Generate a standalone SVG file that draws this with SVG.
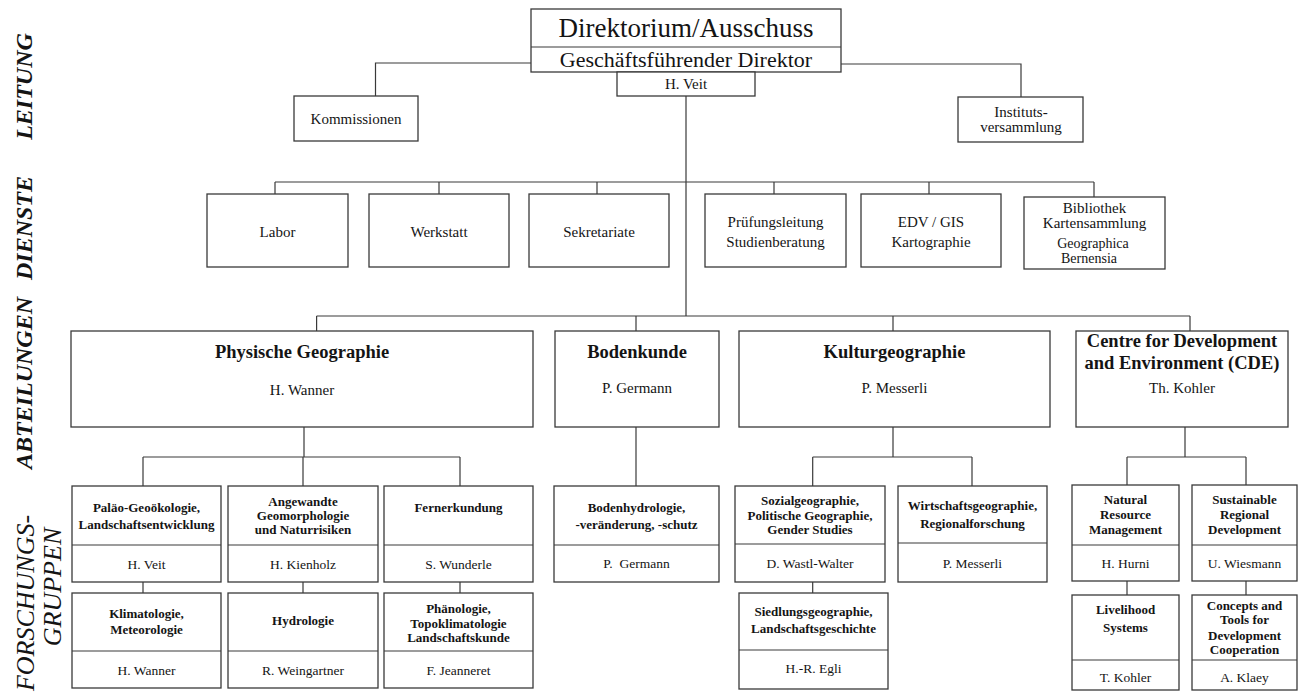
<svg xmlns="http://www.w3.org/2000/svg" width="1301" height="697" viewBox="0 0 1301 697">
<style>
.bx{fill:#fff;stroke:#3a3a3a;stroke-width:1.3}
.ln{fill:none;stroke:#3a3a3a;stroke-width:1.2}
text{font-family:"Liberation Serif","Times New Roman",serif;fill:#141414;text-anchor:middle}
.s15{font-size:15px}
.s14{font-size:14px}
.h1{font-size:27px}
.h2{font-size:22px}
.tt{font-size:18.5px;font-weight:bold}
.fb{font-size:13px;font-weight:bold}
.fn{font-size:13.5px}
.lab{font-size:24px;font-weight:bold;font-style:italic}
.lab2{font-size:26px;font-style:italic}
</style>
<rect width="1301" height="697" fill="#fff"/>
<g id="row-labels">
<text class="lab" transform="translate(32,86.5) rotate(-90)">LEITUNG</text>
<text class="lab" transform="translate(32,228) rotate(-90)">DIENSTE</text>
<text class="lab" transform="translate(32,383) rotate(-90)">ABTEILUNGEN</text>
<text class="lab2" transform="translate(34,603) rotate(-90)">FORSCHUNGS-</text>
<text class="lab2" transform="translate(61,587) rotate(-90)">GRUPPEN</text>
</g>
<g id="connectors">
<path class="ln" d="M531,63H375.5V96M841,64H1021V97M686,96V316"/>
<path class="ln" d="M275,182H1094M275,182V194M439,182V194M597,182V194M774,182V194M929,182V194M1094,182V197"/>
<path class="ln" d="M316.6,316H1190M316.6,316V331M636,316V331M893,316V331M1190,316V331"/>
<path class="ln" d="M304,427V457M143,457H460M143,457V486M303,457V486M460,457V486M143,582V593M303,582V593M460,582V593"/>
<path class="ln" d="M636,427V486"/>
<path class="ln" d="M893,427V457M812.7,457H972M812.7,457V486M972,457V486M812.7,582V593"/>
<path class="ln" d="M1185,427V457M1127,457H1246M1127,457V485M1246,457V485M1127,581V595M1246,581V595"/>
</g>
<g id="direktorium">
<rect class="bx" x="531" y="9" width="310" height="63"/>
<line class="ln" x1="531" y1="47" x2="841" y2="47"/>
<text class="h1" x="686" y="37">Direktorium/Ausschuss</text>
<text class="h2" x="686" y="67">Geschäftsführender Direktor</text>
</g>
<g id="veit">
<rect class="bx" x="617" y="72" width="138" height="24"/>
<text class="s15" x="686" y="89">H. Veit</text>
</g>
<g id="kommissionen">
<rect class="bx" x="294" y="96" width="124" height="45"/>
<text class="s15" x="356" y="124">Kommissionen</text>
</g>
<g id="institutsversammlung">
<rect class="bx" x="958" y="97" width="125" height="45"/>
<text class="s15" x="1021" y="117">Instituts-</text>
<text class="s15" x="1021" y="132">versammlung</text>
</g>
<g id="labor">
<rect class="bx" x="207" y="194" width="141" height="73"/>
<text class="s15" x="277.5" y="237">Labor</text>
</g>
<g id="werkstatt">
<rect class="bx" x="369" y="194" width="140" height="73"/>
<text class="s15" x="439" y="237">Werkstatt</text>
</g>
<g id="sekretariate">
<rect class="bx" x="529" y="194" width="140" height="73"/>
<text class="s15" x="599" y="237">Sekretariate</text>
</g>
<g id="pruefungsleitung">
<rect class="bx" x="705" y="194" width="141" height="73"/>
<text class="s15" x="775.5" y="227">Prüfungsleitung</text>
<text class="s15" x="775.5" y="247">Studienberatung</text>
</g>
<g id="edv">
<rect class="bx" x="861" y="194" width="140" height="73"/>
<text class="s15" x="931" y="227">EDV / GIS</text>
<text class="s15" x="931" y="247">Kartographie</text>
</g>
<g id="bibliothek">
<rect class="bx" x="1024" y="197" width="141" height="72"/>
<text class="s15" x="1094.5" y="213">Bibliothek</text>
<text class="s15" x="1094.5" y="228">Kartensammlung</text>
<text class="s14" x="1093" y="248">Geographica</text>
<text class="s14" x="1089" y="262.5">Bernensia</text>
</g>
<g id="physische-geographie">
<rect class="bx" x="71" y="331" width="462" height="96"/>
<text class="tt" x="302" y="358">Physische Geographie</text>
<text class="s15" x="302" y="395">H. Wanner</text>
</g>
<g id="bodenkunde">
<rect class="bx" x="555" y="331" width="164" height="96"/>
<text class="tt" x="637" y="358">Bodenkunde</text>
<text class="s15" x="637" y="393">P. Germann</text>
</g>
<g id="kulturgeographie">
<rect class="bx" x="739" y="331" width="311" height="96"/>
<text class="tt" x="894.5" y="358">Kulturgeographie</text>
<text class="s15" x="894.5" y="393">P. Messerli</text>
</g>
<g id="cde">
<rect class="bx" x="1076" y="331" width="212" height="96"/>
<text class="tt" x="1182" y="347">Centre for Development</text>
<text class="tt" x="1182" y="369">and Environment (CDE)</text>
<text class="s15" x="1182" y="393">Th. Kohler</text>
</g>
<g id="palaeo">
<rect class="bx" x="72" y="486" width="149" height="96"/>
<line class="ln" x1="72" y1="545" x2="221" y2="545"/>
<text class="fb" x="146.5" y="511.5">Paläo-Geoökologie,</text>
<text class="fb" x="146.5" y="528.5">Landschaftsentwicklung</text>
<text class="fn" x="146.5" y="568.5">H. Veit</text>
</g>
<g id="angewandte">
<rect class="bx" x="228" y="486" width="150" height="96"/>
<line class="ln" x1="228" y1="545" x2="378" y2="545"/>
<text class="fb" x="303" y="505.5">Angewandte</text>
<text class="fb" x="303" y="519.5">Geomorphologie</text>
<text class="fb" x="303" y="533.5">und Naturrisiken</text>
<text class="fn" x="303" y="568.5">H. Kienholz</text>
</g>
<g id="fernerkundung">
<rect class="bx" x="384" y="486" width="149" height="96"/>
<line class="ln" x1="384" y1="545" x2="533" y2="545"/>
<text class="fb" x="458.5" y="511.5">Fernerkundung</text>
<text class="fn" x="458.5" y="568.5">S. Wunderle</text>
</g>
<g id="klimatologie">
<rect class="bx" x="72" y="593" width="149" height="95"/>
<line class="ln" x1="72" y1="651" x2="221" y2="651"/>
<text class="fb" x="146.5" y="617.5">Klimatologie,</text>
<text class="fb" x="146.5" y="633.5">Meteorologie</text>
<text class="fn" x="146.5" y="674.5">H. Wanner</text>
</g>
<g id="hydrologie">
<rect class="bx" x="228" y="593" width="150" height="95"/>
<line class="ln" x1="228" y1="651" x2="378" y2="651"/>
<text class="fb" x="303" y="624.5">Hydrologie</text>
<text class="fn" x="303" y="674.5">R. Weingartner</text>
</g>
<g id="phaenologie">
<rect class="bx" x="384" y="593" width="149" height="95"/>
<line class="ln" x1="384" y1="651" x2="533" y2="651"/>
<text class="fb" x="458.5" y="612.5">Phänologie,</text>
<text class="fb" x="458.5" y="627.5">Topoklimatologie</text>
<text class="fb" x="458.5" y="641.5">Landschaftskunde</text>
<text class="fn" x="458.5" y="674.5">F. Jeanneret</text>
</g>
<g id="bodenhydrologie">
<rect class="bx" x="554" y="486" width="165" height="96"/>
<line class="ln" x1="554" y1="545" x2="719" y2="545"/>
<text class="fb" x="636.5" y="511.5">Bodenhydrologie,</text>
<text class="fb" x="636.5" y="528.5">-veränderung, -schutz</text>
<text class="fn" x="636.5" y="567.5" xml:space="preserve">P.  Germann</text>
</g>
<g id="sozialgeographie">
<rect class="bx" x="735" y="486" width="150" height="96"/>
<line class="ln" x1="735" y1="544" x2="885" y2="544"/>
<text class="fb" x="810" y="504.5">Sozialgeographie,</text>
<text class="fb" x="810" y="519.5">Politische Geographie,</text>
<text class="fb" x="810" y="533.5">Gender Studies</text>
<text class="fn" x="810" y="567.5">D. Wastl-Walter</text>
</g>
<g id="siedlungsgeographie">
<rect class="bx" x="739" y="593" width="149" height="96"/>
<line class="ln" x1="739" y1="650" x2="888" y2="650"/>
<text class="fb" x="813.5" y="615.5">Siedlungsgeographie,</text>
<text class="fb" x="813.5" y="632.5">Landschaftsgeschichte</text>
<text class="fn" x="813.5" y="672.5">H.-R. Egli</text>
</g>
<g id="wirtschaftsgeographie">
<rect class="bx" x="898" y="486" width="149" height="96"/>
<line class="ln" x1="898" y1="543" x2="1047" y2="543"/>
<text class="fb" x="972.5" y="509.5">Wirtschaftsgeographie,</text>
<text class="fb" x="972.5" y="527.5">Regionalforschung</text>
<text class="fn" x="972.5" y="567.5">P. Messerli</text>
</g>
<g id="natural-resource">
<rect class="bx" x="1072" y="485" width="107" height="96"/>
<line class="ln" x1="1072" y1="545" x2="1179" y2="545"/>
<text class="fb" x="1125.5" y="503.5">Natural</text>
<text class="fb" x="1125.5" y="518.5">Resource</text>
<text class="fb" x="1125.5" y="533.5">Management</text>
<text class="fn" x="1125.5" y="567.5">H. Hurni</text>
</g>
<g id="sustainable-regional">
<rect class="bx" x="1192" y="485" width="105" height="96"/>
<line class="ln" x1="1192" y1="545" x2="1297" y2="545"/>
<text class="fb" x="1244.5" y="503.5">Sustainable</text>
<text class="fb" x="1244.5" y="518.5">Regional</text>
<text class="fb" x="1244.5" y="533.5">Development</text>
<text class="fn" x="1244.5" y="567.5">U. Wiesmann</text>
</g>
<g id="livelihood">
<rect class="bx" x="1072" y="595" width="107" height="95"/>
<line class="ln" x1="1072" y1="660" x2="1179" y2="660"/>
<text class="fb" x="1125.5" y="613.5">Livelihood</text>
<text class="fb" x="1125.5" y="631.5">Systems</text>
<text class="fn" x="1125.5" y="681.5">T. Kohler</text>
</g>
<g id="concepts-tools">
<rect class="bx" x="1192" y="595" width="105" height="95"/>
<line class="ln" x1="1192" y1="660" x2="1297" y2="660"/>
<text class="fb" x="1244.5" y="609.5">Concepts and</text>
<text class="fb" x="1244.5" y="623.5">Tools for</text>
<text class="fb" x="1244.5" y="639.5">Development</text>
<text class="fb" x="1244.5" y="653.5">Cooperation</text>
<text class="fn" x="1244.5" y="681.5">A. Klaey</text>
</g>
</svg>
